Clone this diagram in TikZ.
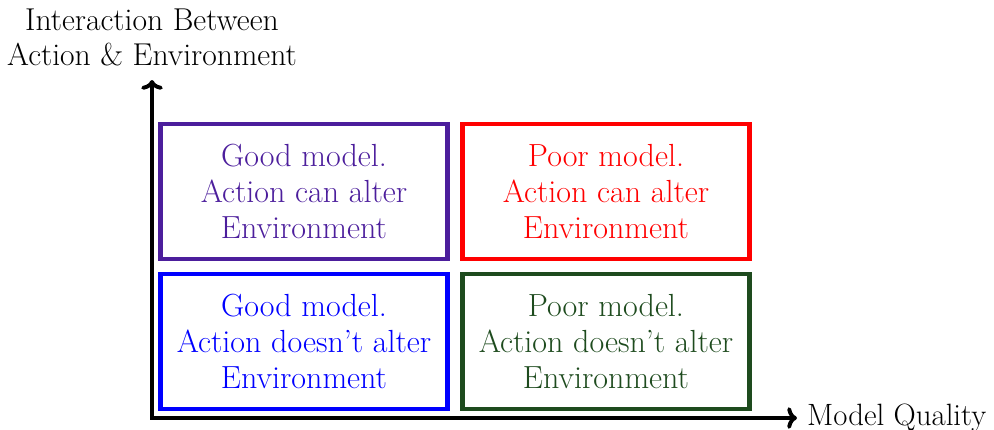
\documentclass[tikz,border=0pt]{standalone}
\usepackage{fontspec}
\setmainfont{Latin Modern Roman}
\usetikzlibrary{arrows.meta}
\definecolor{qpurple}{RGB}{76,30,156}
\definecolor{qgreen}{RGB}{30,75,30}
\begin{document}
\begin{tikzpicture}[x=0.0179cm,y=-0.0179cm,
  quad/.style={draw,line width=2.5pt,minimum width=287*0.0179cm,minimum height=135*0.0179cm,inner sep=0pt,align=center,font=\fontsize{16.3pt}{18.4pt}\selectfont},
  axis/.style={line width=2pt,{To[length=5pt,width=11pt,line width=2pt]}-{To[length=5pt,width=11pt,line width=2pt]}},
  lbl/.style={font=\fontsize{16.1pt}{18pt}\selectfont,align=center,inner sep=1pt}]
\useasboundingbox (0,0) rectangle (994,429);
\coordinate (o) at (152,418);
\coordinate (ytip) at (152,80);
\coordinate (xtip) at (797,418);
\node[quad,qpurple] (tl) at (304,191.5) {Good model.\\Action can alter\\Environment};
\node[quad,red] (tr) at (606,191.5) {Poor model.\\Action can alter\\Environment};
\node[quad,blue] (bl) at (304,341.5) {Good model.\\Action doesn't alter\\Environment};
\node[quad,qgreen] (br) at (606,341.5) {Poor model.\\Action doesn't alter\\Environment};
\draw[axis] (ytip) -- (o) -- (xtip);
\node[lbl,anchor=south] (ylab) at ([yshift=6pt]ytip) {Interaction Between\\Action \& Environment};
\node[lbl,anchor=west,inner sep=0pt,font=\fontsize{15.7pt}{18pt}\selectfont] (xlab) at ([xshift=5pt]xtip) {Model Quality};
\end{tikzpicture}
\end{document}
